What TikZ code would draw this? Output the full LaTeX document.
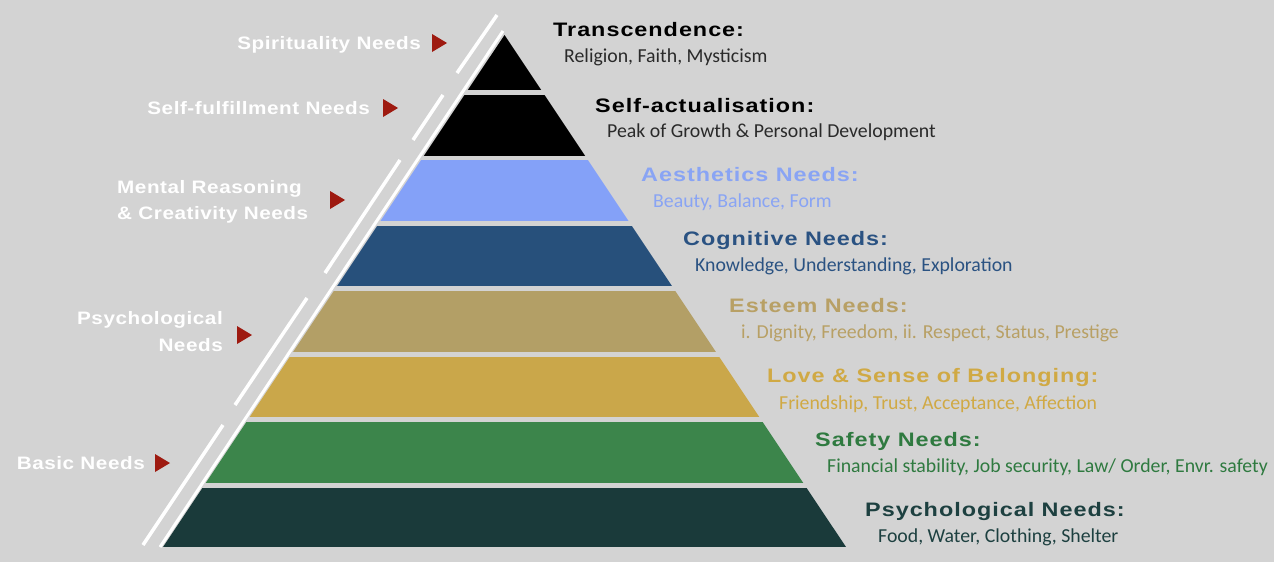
\documentclass[tikz,border=0pt]{standalone}
\usepackage{fontspec}
\newfontfamily\headfont[FakeStretch=1.2,LetterSpace=5]{Liberation Sans}
\newfontfamily\sidefont[FakeStretch=1.15,LetterSpace=3]{Liberation Sans}
\newfontfamily\subfont{Carlito}
\definecolor{bg}{HTML}{D3D3D3}
\definecolor{cblack}{HTML}{000000}
\definecolor{caes}{HTML}{84A1F8}
\definecolor{caestxt}{HTML}{89A4F4}
\definecolor{ccog}{HTML}{27507B}
\definecolor{ccogtxt}{HTML}{2A5282}
\definecolor{cest}{HTML}{B39F66}
\definecolor{cesttxt}{HTML}{B8A065}
\definecolor{clove}{HTML}{CAA74A}
\definecolor{clovetxt}{HTML}{D0A944}
\definecolor{csaf}{HTML}{3C854B}
\definecolor{csaftxt}{HTML}{2F7A40}
\definecolor{cphy}{HTML}{1A3A3A}
\definecolor{cphytxt}{HTML}{1D4040}
\definecolor{subgray}{HTML}{2A2A2A}
\definecolor{tri}{HTML}{9E1A10}
\begin{document}
\begin{tikzpicture}[x=1pt,y=-1pt,
  title/.style={anchor=base west, inner sep=0pt, font=\headfont\bfseries\fontsize{19.5}{22}\selectfont},
  subt/.style={anchor=base west, inner sep=0pt, font=\subfont\fontsize{19.8}{22}\selectfont},
  side/.style={anchor=base east, inner sep=0pt, text=white, font=\sidefont\bfseries\fontsize{18}{21}\selectfont},
  sidel/.style={side, anchor=base west},
  redtri/.style={fill=tri},
  seg/.style={draw=white, line width=3.5pt}]
\useasboundingbox (0,0) rectangle (1274,570);
\fill[white] (0,0) rectangle (1274,570);
\fill[bg] (0,0) rectangle (1274,562);
% pyramid layers
\begin{scope}
\clip (504.5,35) -- (163,547) -- (846,547) -- cycle;
\fill[cblack] (0,30) rectangle (1274,90);
\fill[cblack] (0,95) rectangle (1274,156);
\fill[caes] (0,160) rectangle (1274,221);
\fill[ccog] (0,226) rectangle (1274,286);
\fill[cest] (0,291) rectangle (1274,352);
\fill[clove] (0,357) rectangle (1274,417);
\fill[csaf] (0,422) rectangle (1274,483);
\fill[cphy] (0,488) rectangle (1274,547);
\end{scope}
% white edge line
\draw[white, line width=3pt] (503,31) -- (160,547);
% outer segmented line
\draw[seg] (497,15) -- (457,73);
\draw[seg] (443,95) -- (413,140);
\draw[seg] (400,160) -- (325,273);
\draw[seg] (307,298) -- (235,405);
\draw[seg] (223,425) -- (143,545);
% right titles
\node[title, text=black] (t1) at (553,36) {Transcendence:};
\node[subt, text=subgray] (s1) at (564,62) {Religion, Faith, Mysticism};
\node[title, text=black] (t2) at (595,112) {Self-actualisation:};
\node[subt, text=subgray] (s2) at (607,137) {Peak of Growth \& Personal Development};
\node[title, text=caestxt] (t3) at (641,181) {Aesthetics Needs:};
\node[subt, text=caestxt] (s3) at (653,207) {Beauty, Balance, Form};
\node[title, text=ccogtxt] (t4) at (683,245) {Cognitive Needs:};
\node[subt, text=ccogtxt] (s4) at (695,271) {Knowledge, Understanding, Exploration};
\node[title, text=cesttxt] (t5) at (729,312) {Esteem Needs:};
\node[subt, text=cesttxt] (s5) at (741,338) {i. Dignity, Freedom, ii. Respect, Status, Prestige};
\node[title, text=clovetxt] (t6) at (767,382) {Love \& Sense of Belonging:};
\node[subt, text=clovetxt] (s6) at (779,409) {Friendship, Trust, Acceptance, Affection};
\node[title, text=csaftxt] (t7) at (815,446) {Safety Needs:};
\node[subt, text=csaftxt] (s7) at (827,472) {Financial stability, Job security, Law/ Order, Envr. safety};
\node[title, text=cphytxt] (t8) at (865,516) {Psychological Needs:};
\node[subt, text=cphytxt] (s8) at (878,542) {Food, Water, Clothing, Shelter};
% left labels
\node[side] (l1) at (421,49) {Spirituality Needs};
\node[side] (l2) at (370,114) {Self-fulfillment Needs};
\node[sidel] (l3a) at (117,193) {Mental Reasoning};
\node[sidel] (l3b) at (117,219) {\& Creativity Needs};
\node[side] (l4a) at (223,324) {Psychological};
\node[side] (l4b) at (223,351) {Needs};
\node[side] (l5) at (145,469) {Basic Needs};
% red markers
\fill[redtri] (432,34) -- (447,43) -- (432,52) -- cycle;
\fill[redtri] (383,99) -- (398,108) -- (383,117) -- cycle;
\fill[redtri] (330,191) -- (345,200) -- (330,209) -- cycle;
\fill[redtri] (237,326) -- (252,335) -- (237,344) -- cycle;
\fill[redtri] (155,454) -- (170,463) -- (155,472) -- cycle;
\end{tikzpicture}
\end{document}
